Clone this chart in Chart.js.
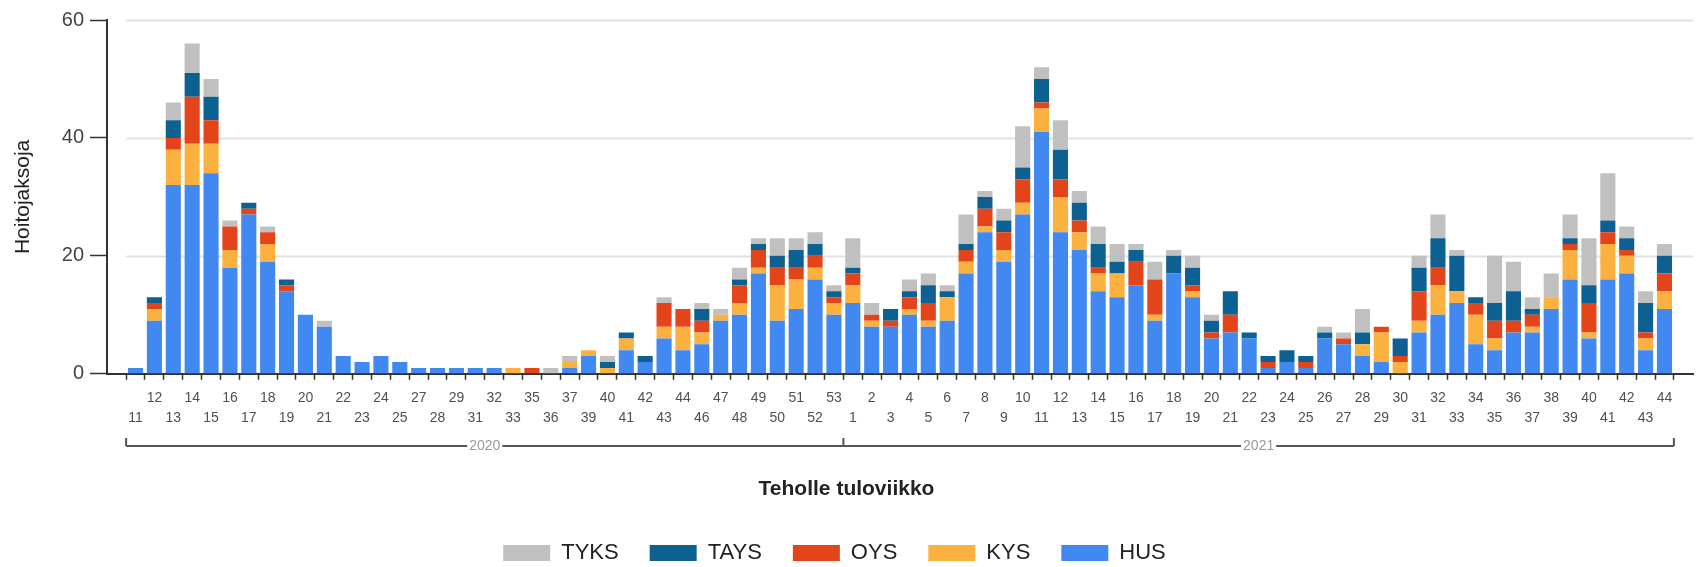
<!DOCTYPE html>
<html>
<head>
<meta charset="utf-8">
<script src="https://cdn.jsdelivr.net/npm/chart.js@4.4.0/dist/chart.umd.min.js"></script>
<style>
html,body{margin:0;padding:0;background:#fff;}
#c{display:block;}
</style>
</head>
<body>
<canvas id="c" width="1697" height="567"></canvas>
<script>
// ---- data ----
const weekLabels = [
  '11','12','13','14','15','16','17','18','19','20','21','22','23','24','25',
  '27','28','29','31','32','33','35','36','37','39','40','41','42','43','44',
  '46','47','48','49','50','51','52','53',
  '1','2','3','4','5','6','7','8','9','10','11','12','13','14','15','16','17','18','19','20','21','22',
  '23','24','25','26','27','28','29','30','31','32','33','34','35','36','37','38','39','40','41','42','43','44'
];
const yearLabels = ['2020', '2021'];
const yearBarCounts = [38, 44];

const HUS = [
  1,9,32,32,34,18,27,19,14,10,8,3,2,3,2,
  1,1,1,1,1,0,0,0,1,3,0,4,2,6,4,
  5,9,10,17,9,11,16,10,
  12,8,8,10,8,9,17,24,19,27,41,24,21,14,13,15,9,17,13,6,7,6,
  1,2,1,6,5,3,2,0,7,10,12,5,4,7,7,11,16,6,16,17,4,11
];
const KYS = [
  0,2,6,7,5,3,0,3,0,0,0,0,0,0,0,
  0,0,0,0,0,1,0,0,1,1,1,2,0,2,4,
  2,1,2,1,6,5,2,2,
  3,1,0,1,1,4,2,1,2,2,4,6,3,3,4,0,1,0,1,0,0,0,
  0,0,0,0,0,2,5,2,2,5,2,5,2,0,1,2,5,1,6,3,2,3
];
const OYS = [
  0,1,2,8,4,4,1,2,1,0,0,0,0,0,0,
  0,0,0,0,0,0,1,0,0,0,0,0,0,4,3,
  2,0,3,3,3,2,2,1,
  2,1,1,2,3,0,2,3,3,4,1,3,2,1,0,4,6,0,1,1,3,0,
  1,0,1,0,1,0,1,1,5,3,0,2,3,2,2,0,1,5,2,1,1,3
];
const TAYS = [
  0,1,3,4,4,0,1,0,1,0,0,0,0,0,0,
  0,0,0,0,0,0,0,0,0,0,1,1,1,0,0,
  2,0,1,1,2,3,2,1,
  1,0,2,1,3,1,1,2,2,2,4,5,3,4,2,2,0,3,3,2,4,1,
  1,2,1,1,0,2,0,3,4,5,6,1,3,5,1,0,1,3,2,2,5,3
];
const TYKS = [
  0,0,3,5,3,1,0,1,0,0,1,0,0,0,0,
  0,0,0,0,0,0,0,1,1,0,1,0,0,1,0,
  1,1,2,1,3,2,2,1,
  5,2,0,2,2,1,5,1,2,7,2,5,2,3,3,1,3,1,2,1,0,0,
  0,0,0,1,1,4,0,0,2,4,1,0,8,5,2,4,4,8,8,2,2,2
];

// ---- chart ----
Chart.defaults.font.family = "'Liberation Sans', Arial, sans-serif";
const idx = weekLabels.map((_, i) => i);
const toPoints = arr => arr.map((v, i) => ({ x: i, y: v }));

const gridPlugin = {
  id: 'gridLines',
  beforeDatasetsDraw(chart) {
    const { ctx, chartArea, scales } = chart;
    const x0 = scales.x.getPixelForValue(-0.5);
    ctx.save();
    ctx.strokeStyle = '#e2e2e2';
    ctx.lineWidth = 2;
    [20, 40, 60].forEach(v => {
      const y = Math.round(scales.y.getPixelForValue(v)) + 0.5;
      ctx.beginPath();
      ctx.moveTo(x0, y);
      ctx.lineTo(chartArea.right, y);
      ctx.stroke();
    });
    ctx.restore();
  }
};

const legendShiftPlugin = {
  id: 'legendShift',
  afterLayout(chart) {
    if (chart.legend) {
      chart.legend.left -= 12;
      chart.legend.right -= 12;
    }
  }
};

const yearBracketPlugin = {
  id: 'yearBracket',
  afterDraw(chart) {
    const { ctx, scales, chartArea } = chart;
    const xs = scales.x;
    const y = Math.round(chartArea.bottom) + 72;
    let start = 0;
    const edges = [xs.getPixelForValue(-0.5)];
    yearBarCounts.forEach(n => { start += n; edges.push(xs.getPixelForValue(start - 0.5)); });
    ctx.save();
    ctx.strokeStyle = '#555';
    ctx.lineWidth = 2;
    ctx.beginPath();
    ctx.moveTo(edges[0], y);
    ctx.lineTo(edges[edges.length - 1], y);
    edges.forEach(e => { ctx.moveTo(e, y); ctx.lineTo(e, y - 8); });
    ctx.stroke();
    ctx.font = "14px 'Liberation Sans', Arial, sans-serif";
    ctx.textAlign = 'center';
    ctx.textBaseline = 'middle';
    yearLabels.forEach((lab, i) => {
      const cx = (edges[i] + edges[i + 1]) / 2;
      const w = ctx.measureText(lab).width;
      ctx.fillStyle = '#fff';
      ctx.fillRect(cx - w / 2 - 2, y - 7, w + 4, 14);
      ctx.fillStyle = '#999';
      ctx.fillText(lab, cx, y);
    });
    ctx.restore();
  }
};

new Chart(document.getElementById('c'), {
  type: 'bar',
  data: {
    datasets: [
      { label: 'HUS', data: toPoints(HUS), backgroundColor: '#4189f0' },
      { label: 'KYS', data: toPoints(KYS), backgroundColor: '#fbb140' },
      { label: 'OYS', data: toPoints(OYS), backgroundColor: '#e4441a' },
      { label: 'TAYS', data: toPoints(TAYS), backgroundColor: '#0d6192' },
      { label: 'TYKS', data: toPoints(TYKS), backgroundColor: '#c0c0c0' }
    ]
  },
  options: {
    responsive: false,
    animation: false,
    layout: { padding: { top: 20, right: 4, left: 0, bottom: -7 } },
    datasets: { bar: { categoryPercentage: 1, barPercentage: 0.8 } },
    scales: {
      x: {
        type: 'linear',
        stacked: true,
        min: -1,
        max: 82,
        afterBuildTicks: s => { s.ticks = idx.map(v => ({ value: v })); },
        afterFit: s => { s.height = 100; },
        ticks: {
          autoSkip: false,
          maxRotation: 0,
          minRotation: 0,
          padding: 8,
          color: '#505050',
          font: { size: 14, lineHeight: 1.43 },
          callback: v => {
            const i = Math.round(v);
            const l = weekLabels[i];
            return i % 2 === 0 ? ['', l] : [l, ''];
          }
        },
        grid: { display: true, drawOnChartArea: false, drawTicks: true, tickLength: 6, color: '#333', tickWidth: 1.5 },
        border: { display: true, color: '#333', width: 2 }
      },
      y: {
        stacked: true,
        min: 0,
        max: 60,
        afterFit: s => { s.width = 107; },
        ticks: { stepSize: 20, padding: 6, color: '#444', font: { size: 20 } },
        grid: { display: true, drawOnChartArea: false, tickLength: 17, color: '#333', tickWidth: 1.5 },
        border: { display: true, color: '#333', width: 2 },
        title: { display: true, text: 'Hoitojaksoja', color: '#222', font: { size: 21 }, padding: { top: 11, bottom: 0 } }
      }
    },
    plugins: {
      tooltip: { enabled: false },
      title: {
        display: true,
        position: 'bottom',
        text: 'Teholle tuloviikko',
        color: '#222',
        font: { size: 21, weight: 'bold' },
        padding: { top: 3, bottom: 9 }
      },
      legend: {
        position: 'bottom',
        weight: 3000,
        reverse: true,
        labels: { boxWidth: 47, boxHeight: 16, color: '#222', font: { size: 22 }, padding: 31 }
      }
    }
  },
  plugins: [gridPlugin, legendShiftPlugin, yearBracketPlugin]
});
</script>
</body>
</html>
